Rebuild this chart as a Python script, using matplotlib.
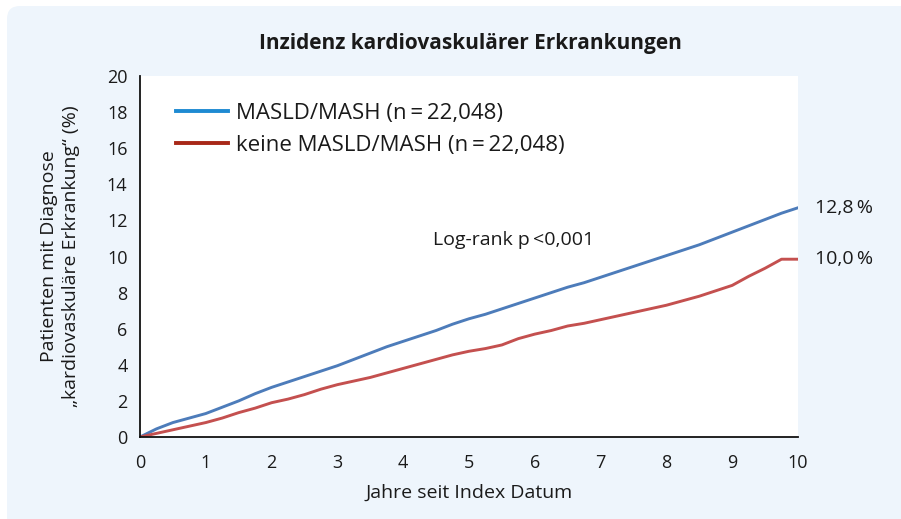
import matplotlib
matplotlib.use("Agg")
import matplotlib.pyplot as plt
from matplotlib.patches import FancyBboxPatch, Rectangle
from matplotlib.lines import Line2D

plt.rcParams['font.family'] = ['Open Sans', 'DejaVu Sans']

title = "Inzidenz kardiovaskulärer Erkrankungen"
years = [0, 0.25, 0.5, 0.75, 1.0, 1.25, 1.5, 1.75, 2.0, 2.25, 2.5, 2.75, 3.0, 3.25, 3.5, 3.75,
         4.0, 4.25, 4.5, 4.75, 5.0, 5.25, 5.5, 5.75, 6.0, 6.25, 6.5, 6.75, 7.0, 7.25, 7.5, 7.75,
         8.0, 8.25, 8.5, 8.75, 9.0, 9.25, 9.5, 9.75, 10.0]
masld = [0, 0.45, 0.8, 1.05, 1.3, 1.65, 2.0, 2.4, 2.75, 3.05, 3.35, 3.65, 3.95, 4.3, 4.65, 5.0,
         5.3, 5.6, 5.9, 6.25, 6.55, 6.8, 7.1, 7.4, 7.7, 8.0, 8.3, 8.55, 8.85, 9.15, 9.45, 9.75,
         10.05, 10.35, 10.65, 11.0, 11.35, 11.7, 12.05, 12.4, 12.7]
keine = [0, 0.2, 0.4, 0.6, 0.8, 1.05, 1.35, 1.6, 1.9, 2.1, 2.35, 2.65, 2.9, 3.1, 3.3, 3.55,
         3.8, 4.05, 4.3, 4.55, 4.75, 4.9, 5.1, 5.45, 5.7, 5.9, 6.15, 6.3, 6.5, 6.7, 6.9, 7.1,
         7.3, 7.55, 7.8, 8.1, 8.4, 8.9, 9.35, 9.85, 9.85]
series_labels = ["MASLD/MASH (n\u2009=\u200922,048)", "keine MASLD/MASH (n\u2009=\u200922,048)"]
end_labels = ["12,8\u2009%", "10,0\u2009%"]
xticks = list(range(0, 11))
yticks = list(range(0, 21, 2))
ylabel = "Patienten mit Diagnose\n\u201ekardiovaskuläre Erkrankung\u201c (%)"
xlabel = "Jahre seit Index Datum"
annot = "Log-rank p\u2009<0,001"

W, H = 901, 519
TXT = '#1a1a1a'
BG = '#eef5fc'
fig = plt.figure(figsize=(W / 100, H / 100), dpi=100, facecolor='white')

# background panel (rounded top-left corner, runs off right and bottom edges)
fig.patches.append(Rectangle((20 / W, -0.05), 1.1, 1.05 - 6 / H, transform=fig.transFigure,
                             facecolor=BG, edgecolor='none', zorder=-10, clip_on=False))
fig.patches.append(Rectangle((7 / W, -0.05), 1.1, 1.05 - 19 / H, transform=fig.transFigure,
                             facecolor=BG, edgecolor='none', zorder=-10, clip_on=False))
fig.patches.append(FancyBboxPatch((7 / W, 0.5), 0.2, 0.5 - 6 / H,
                                  boxstyle="round,pad=0,rounding_size=0.0144",
                                  mutation_aspect=W / H,
                                  transform=fig.transFigure, facecolor=BG, edgecolor='none',
                                  zorder=-10, clip_on=False))

ax = fig.add_axes([140 / W, 1 - 437 / H, (798 - 140) / W, (437 - 76) / H])
ax.set_facecolor('white')

ax.plot(years, masld, color='#4d7cba', lw=2.1, solid_joinstyle='round')
ax.plot(years, keine, color='#c4504f', lw=2.1, solid_joinstyle='round')

ax.set_xlim(0, 10)
ax.set_ylim(0, 20)
ax.set_xticks(xticks)
ax.set_yticks(yticks)
ax.tick_params(axis='both', length=0, labelsize=13, colors=TXT)
ax.tick_params(axis='x', pad=12)
ax.tick_params(axis='y', pad=9)
for s in ['top', 'right']:
    ax.spines[s].set_visible(False)
for s in ['left', 'bottom']:
    ax.spines[s].set_color('#111111')
    ax.spines[s].set_linewidth(1.3)

ax.set_xlabel(xlabel, fontsize=14, color=TXT, labelpad=9)
fig.text(60 / W, 1 - 256 / H, ylabel, rotation=90, fontsize=14, color=TXT,
         ha='center', va='center', linespacing=1.25, multialignment='center')

fig.text(470 / W, 1 - 44 / H, title, fontsize=15, fontweight='bold', ha='center', va='center',
         color=TXT)

handles = [Line2D([], [], color='#1e8ad2', lw=2.8), Line2D([], [], color='#a82818', lw=2.8)]
leg = ax.legend(handles, series_labels, loc='upper left', bbox_to_anchor=(0.0547, 0.925),
                frameon=False, fontsize=16, handlelength=2.35, handletextpad=0.35,
                labelspacing=0.5, borderaxespad=0, borderpad=0)
for t in leg.get_texts():
    t.set_color(TXT)

ax.text(0.568, 0.546, annot, transform=ax.transAxes, fontsize=14, ha='center', va='center',
        color=TXT)
ax.annotate(end_labels[0], xy=(10, masld[-1]), xytext=(12, 0), textcoords='offset points',
            fontsize=14, va='center', ha='left', annotation_clip=False, color=TXT)
ax.annotate(end_labels[1], xy=(10, keine[-1]), xytext=(12, 0), textcoords='offset points',
            fontsize=14, va='center', ha='left', annotation_clip=False, color=TXT)

fig.savefig('out.png', dpi=100, facecolor='white')
